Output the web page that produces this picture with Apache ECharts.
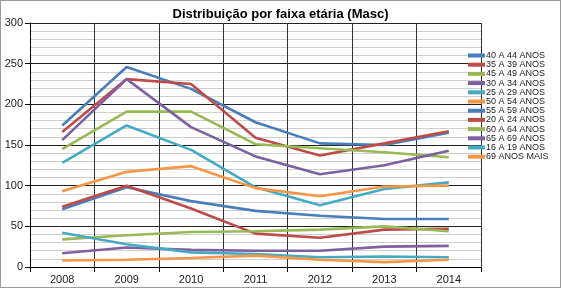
<!DOCTYPE html>
<html><head><meta charset="utf-8">
<script src="https://cdn.jsdelivr.net/npm/echarts@6/dist/echarts.min.js"></script>
<style>
html,body{margin:0;padding:0;background:#fff;}
#frame{position:absolute;left:0;top:0;width:559px;height:286px;border:1px solid #9a9a9a;}
#c{position:absolute;left:0;top:0;width:561px;height:288px;}
</style></head>
<body><div id="frame"></div><div id="c"></div>
<script>
const years = ['2008','2009','2010','2011','2012','2013','2014'];
const names = ['40 A 44 ANOS','35 A 39 ANOS','45 A 49 ANOS','30 A 34 ANOS','25 A 29 ANOS','50 A 54 ANOS','55 A 59 ANOS','20 A 24 ANOS','60 A 64 ANOS','65 A 69 ANOS','16 A 19 ANOS','69 ANOS MAIS'];
const s40_44 = [174, 246, 219, 178, 152, 150, 165];
const s35_39 = [166, 231, 225, 159, 137, 152, 167];
const s45_49 = [145, 191, 191, 151, 146, 141, 135];
const s30_34 = [156, 231, 172, 136, 114, 125, 143];
const s25_29 = [128, 174, 144, 98, 76, 96, 104];
const s50_54 = [93, 117, 124, 97, 87, 99, 100];
const s55_59 = [71, 98, 81, 69, 63, 59, 59];
const s20_24 = [74, 100, 72, 41, 36, 46, 47];
const s60_64 = [34, 39, 43, 44, 46, 50, 44];
const s65_69 = [17, 24, 21, 20, 20, 25, 26];
const s16_19 = [42, 28, 18, 16, 12, 13, 12];
const s69plus = [8, 9, 11, 14, 9, 6, 9];
const allData = [s40_44, s35_39, s45_49, s30_34, s25_29, s50_54, s55_59, s20_24, s60_64, s65_69, s16_19, s69plus];
const colors = ['#4A7EBB','#BE4B48','#98B954','#7D60A0','#46AAC5','#F79646','#4A7EBB','#BE4B48','#98B954','#7D60A0','#46AAC5','#F79646'];

const chart = echarts.init(document.getElementById('c'));
chart.setOption({
  animation:false,
  color: colors,
  title:{text:'Distribuição por faixa etária (Masc)', left:'center', top:3,
    textStyle:{fontFamily:'Liberation Sans, Arial', fontSize:13, fontWeight:'bold', color:'#000'}},
  legend:{orient:'vertical', left:463, top:46, icon:'rect', itemWidth:17, itemHeight:4, itemGap:0.2,
    textStyle:{fontFamily:'Liberation Sans, Arial', fontSize:9, lineHeight:9, color:'#222', padding:[0,0,0,-4]},
    data:names},
  grid:{left:30, right:80, top:23, bottom:21, containLabel:false},
  xAxis:{type:'category', data:years, boundaryGap:true,
    axisLine:{lineStyle:{color:'#000', width:1}},
    axisTick:{show:true, length:5, lineStyle:{color:'#000'}},
    axisLabel:{fontFamily:'Liberation Sans, Arial', fontSize:11, color:'#222', margin:7},
    splitLine:{show:true, lineStyle:{color:'#333', width:1}}},
  yAxis:{type:'value', min:0, max:300, interval:50,
    axisLine:{show:true, lineStyle:{color:'#000', width:1}},
    axisTick:{show:true, length:5, lineStyle:{color:'#000'}},
    axisLabel:{fontFamily:'Liberation Sans, Arial', fontSize:11, color:'#222', margin:7},
    splitLine:{show:true, lineStyle:{color:'#222', width:1}},
    minorTick:{show:false, splitNumber:5},
    minorSplitLine:{show:true, lineStyle:{color:'#cfcfcf', width:1}}},
  series: names.map((n,i)=>({name:n, type:'line', data:allData[i], symbol:'none',
    lineStyle:{width:2.6, color:colors[i]}, itemStyle:{color:colors[i]}}))
});
</script></body></html>
